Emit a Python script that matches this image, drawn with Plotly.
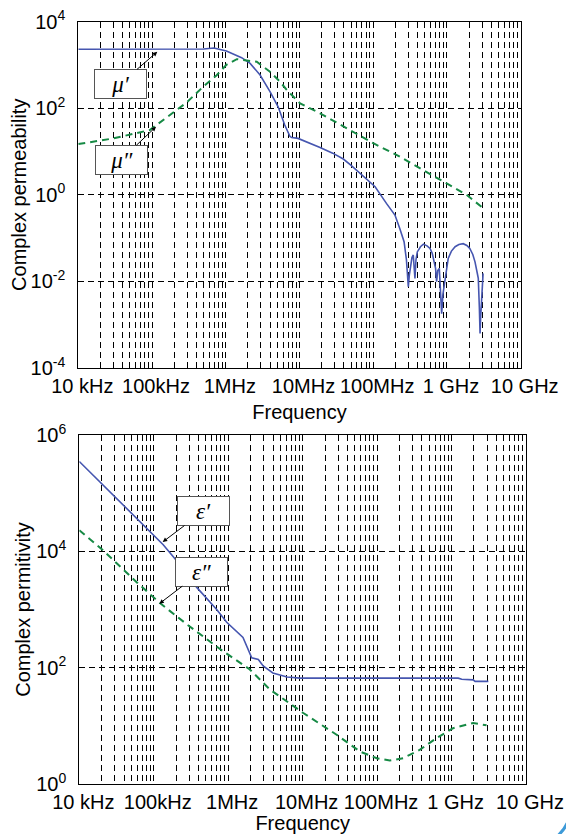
import plotly.graph_objects as go

# ---------------- data ----------------
# Complex permeability, real part (mu')
freq_mu_r = [1e4, 1e5, 3.16e5, 5.0e5, 6.9e5, 1.02e6, 1.64e6, 2.14e6, 2.92e6, 3.98e6,
             5.13e6, 6.31e6, 7.41e6, 7.83e6, 9.55e6, 1.32e7, 1.90e7, 2.82e7, 3.93e7,
             5.01e7, 6.61e7, 1.06e8, 1.51e8, 1.97e8, 2.29e8, 2.62e8, 2.82e8, 2.99e8,
             3.09e8, 3.22e8, 3.35e8, 3.49e8, 3.59e8, 3.68e8, 3.80e8, 3.96e8, 4.37e8,
             4.79e8, 5.37e8, 5.89e8, 6.31e8, 6.67e8, 7.00e8, 7.24e8, 7.50e8, 7.87e8,
             8.13e8, 8.47e8, 8.81e8, 9.40e8, 1.0e9, 1.04e9, 1.15e9, 1.29e9, 1.45e9,
             1.66e9, 1.86e9, 2.04e9, 2.24e9, 2.40e9, 2.57e9, 2.66e9, 2.75e9, 2.81e9,
             2.87e9, 2.95e9, 3.09e9]
mu_r = [2280, 2280, 2280, 2320, 2440, 2090, 1460, 1080, 582, 240,
        107, 40.7, 22.4, 20.9, 20, 16.2, 12.3, 9.12, 6.68,
        4.79, 3.12, 1.53, 0.631, 0.339, 0.166, 0.0822, 0.0316, 0.0075,
        0.0141, 0.0204, 0.0355, 0.0407, 0.0251, 0.0117, 0.0316, 0.0479, 0.0631,
        0.0724, 0.0661, 0.0575, 0.0447, 0.0282, 0.020, 0.0098, 0.0178, 0.020,
        0.0079, 0.0018, 0.005, 0.0117, 0.024, 0.0339, 0.05, 0.0631, 0.0708,
        0.0741, 0.0676, 0.0575, 0.0417, 0.0282, 0.0158, 0.0117, 0.0025, 0.00063,
        0.0016, 0.0041, 0.0153]

# Complex permeability, imaginary part (mu'')
freq_mu_i = [1e4, 2.99e4, 9.33e4, 1.75e5, 2.95e5, 4.97e5, 7.53e5, 1.02e6, 1.41e6,
             1.92e6, 2.63e6, 3.98e6, 5.45e6, 6.7e6, 1.02e7, 1.9e7, 4.37e7, 1e8,
             2.29e8, 5.31e8, 1.22e9, 1.86e9, 2.95e9]
mu_i = [14.8, 20, 31.2, 69.2, 135, 316, 575, 1000, 1350,
        1260, 1175, 692, 407, 263, 129, 75.9, 33.9, 15.5,
        7.59, 3.39, 1.53, 0.984, 0.525]

# Complex permittivity, real part (eps')
freq_eps_r = [1e4, 2.09e4, 5.89e4, 1.34e5, 2.03e5, 3.78e5, 7.0e5, 9.55e5, 1.58e6,
              2.07e6, 2.54e6, 2.95e6, 3.98e6, 6.17e6, 9.2e6, 1.23e9, 1.37e9, 1.95e9,
              2.07e9, 3.12e9]
eps_r = [3.5e5, 1.38e5, 3.67e4, 1.30e4, 6920, 2400, 1000, 603, 331,
         148, 138, 107, 81.3, 69.2, 66.1, 66.1, 63.1, 61.7,
         58.1, 58.1]

# Complex permittivity, imaginary part (eps'')
freq_eps_i = [1e4, 2.09e4, 5.89e4, 1.21e5, 2.75e5, 7.76e5, 1.95e6, 3.63e6, 1.02e7,
              2.86e7, 5.89e7, 9.89e7, 1.48e8, 2.24e8, 3.77e8, 6.31e8, 1.05e9, 1.95e9,
              2.95e9]
eps_i = [2.30e4, 1.04e4, 2950, 1290, 562, 209, 93.3, 42.2, 16.6,
         7.03, 3.61, 2.78, 2.53, 2.78, 3.89, 6.17, 9.12, 11.2,
         10.2]

# axis ticks
x_decades = [1e4, 1e5, 1e6, 1e7, 1e8, 1e9, 1e10]
x_tick_labels = ["10 kHz", "100kHz", "1MHz", "10MHz", "100MHz", "1 GHz", "10 GHz"]
mu_ticks = [1e-4, 1e-2, 1e0, 1e2, 1e4]
mu_tick_labels = ["10<sup>-4</sup>", "10<sup>-2</sup>", "10<sup>0</sup>", "10<sup>2</sup>", "10<sup>4</sup>"]
eps_ticks = [1e0, 1e2, 1e4, 1e6]
eps_tick_labels = ["10<sup>0</sup>", "10<sup>2</sup>", "10<sup>4</sup>", "10<sup>6</sup>"]

# ---------------- styling ----------------
WIN_W, WIN_H = 574, 834
OFF = 8                      # page body margin of the browser
W, H = WIN_W - OFF, WIN_H - OFF
BLUE = "#4656b0"
GREEN = "#178a45"
FONT = "Liberation Sans, Arial, sans-serif"
FS = 20
GRID = dict(showgrid=True, gridcolor="black", gridwidth=1, griddash="6px,4px")

# minor grid positions: 2..9 x each decade (MATLAB style log grid)
minor_vals = [m * d for d in x_decades[:-1] for m in range(2, 10)]

def px_x(p):
    return (p - OFF) / W

def px_y(p):
    return 1 - (p - OFF) / H

def xaxis(domain, anchor):
    return dict(type="log", range=[4, 10], domain=domain, anchor=anchor,
                tickmode="array", tickvals=x_decades, ticktext=x_tick_labels,
                minor=dict(tickmode="array", tickvals=minor_vals, ticks="", **GRID),
                tickangle=0, automargin=False, ticklabeloverflow="allow",
                showline=True, linecolor="black", linewidth=1, mirror=True,
                ticks="", zeroline=False, ticklabelstandoff=0, ticklabelshift=4,
                tickfont=dict(family=FONT, size=FS, color="black"),
                title=dict(text="Frequency", font=dict(family=FONT, size=FS, color="black"),
                           standoff=8), **GRID)

def yaxis(domain, anchor, rng, vals, texts, title):
    return dict(type="log", range=rng, domain=domain, anchor=anchor,
                tickmode="array", tickvals=vals, ticktext=texts, automargin=False,
                ticklabeloverflow="allow",
                showline=True, linecolor="black", linewidth=1, mirror=True,
                ticks="", zeroline=False, ticklabelstandoff=8,
                tickfont=dict(family=FONT, size=FS, color="black"),
                title=dict(text=title, font=dict(family=FONT, size=FS, color="black"),
                           standoff=0), **GRID)

fig = go.Figure()
fig.add_trace(go.Scatter(x=freq_mu_r, y=mu_r, mode="lines", xaxis="x", yaxis="y",
                         line=dict(color=BLUE, width=1.6)))
fig.add_trace(go.Scatter(x=freq_mu_i, y=mu_i, mode="lines", xaxis="x", yaxis="y",
                         line=dict(color=GREEN, width=2, dash="7px,5px")))
fig.add_trace(go.Scatter(x=freq_eps_r, y=eps_r, mode="lines", xaxis="x2", yaxis="y2",
                         line=dict(color=BLUE, width=1.6)))
fig.add_trace(go.Scatter(x=freq_eps_i, y=eps_i, mode="lines", xaxis="x2", yaxis="y2",
                         line=dict(color=GREEN, width=2, dash="7px,5px")))

fig.update_layout(
    width=W, height=H, autosize=False,
    margin=dict(l=0, r=0, t=0, b=0, pad=0, autoexpand=False),
    paper_bgcolor="white", plot_bgcolor="white",
    showlegend=False,
    xaxis=xaxis([px_x(78.3), px_x(520.7)], "y"),
    yaxis=yaxis([px_y(368), px_y(21.5)], "x", [-4, 4], mu_ticks, mu_tick_labels,
                "Complex permeability"),
    xaxis2=xaxis([px_x(79.3), px_x(526)], "y2"),
    yaxis2=yaxis([px_y(784), px_y(435)], "x2", [0, 6], eps_ticks, eps_tick_labels,
                 "Complex permitivity"),
)

# label boxes with arrows (positions in log10 units for log axes)
LABFONT = dict(family="Liberation Serif, Times New Roman, serif", size=23, color="black")
labels = [
    ("x", "y", 5.071, 3.30, -37, 32, "<i>μ′</i>"),
    ("x", "y", 5.054, 1.57, -35, 33, "<i>μ″</i>"),
    ("x2", "y2", 5.12, 4.16, 41, -31, "<i>ε′</i>"),
    ("x2", "y2", 5.075, 3.10, 42, -32, "<i>ε″</i>"),
]
for xr, yr, x, y, ax, ay, txt in labels:
    fig.add_annotation(xref=xr, yref=yr, x=x, y=y, ax=ax, ay=ay, text=txt,
                       showarrow=True, arrowhead=2, arrowsize=0.9, arrowwidth=1,
                       arrowcolor="black", bgcolor="white", bordercolor="#555555",
                       borderwidth=1, borderpad=1, width=49, height=26, font=LABFONT)

# light blue rounded frame around the figure (page decoration)
L, R, B, RAD = -6, 571, 846, 40
k = 0.5523 * RAD
frame = (f"M {px_x(L)},{px_y(-40)} L {px_x(L)},{px_y(B - RAD)} "
         f"C {px_x(L)},{px_y(B - RAD + k)} {px_x(L + RAD - k)},{px_y(B)} {px_x(L + RAD)},{px_y(B)} "
         f"L {px_x(R - RAD)},{px_y(B)} "
         f"C {px_x(R - RAD + k)},{px_y(B)} {px_x(R)},{px_y(B - RAD + k)} {px_x(R)},{px_y(B - RAD)} "
         f"L {px_x(R)},{px_y(-40)}")
fig.add_shape(type="path", xref="paper", yref="paper", path=frame,
              line=dict(color="#3d9ad8", width=3), layer="above")

fig.write_html("out.html")
